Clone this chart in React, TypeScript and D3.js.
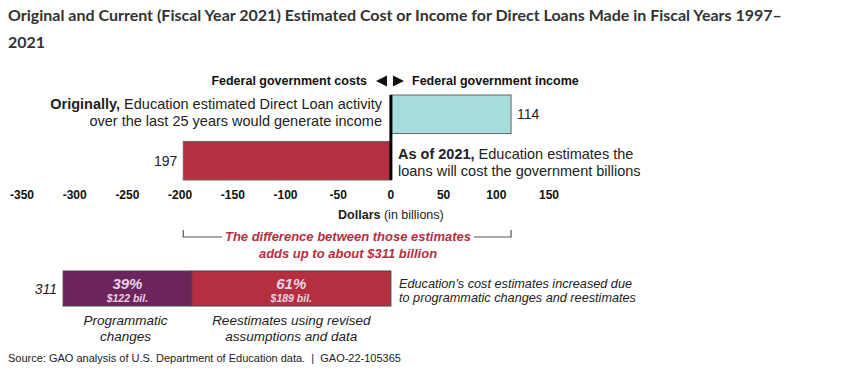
import React from "react";
import * as d3 from "d3";

const estimateLabels = ["Original", "As of 2021"];
const estimateValues = [114, -197];
const tickValues = [-350, -300, -250, -200, -150, -100, -50, 0, 50, 100, 150];
const componentLabels = ["Programmatic changes", "Reestimates"];
const componentValues = [122, 189];
const componentPercents = ["39%", "61%"];
const totalDifference = 311;

const W = 843;
const H = 372;

export default function App() {
  const x = d3.scaleLinear().domain([-350, 150]).range([22, 549]);
  const x0 = x(0);
  const font = "'Liberation Sans', Arial, sans-serif";
  const red = "#b52f41";
  const blue = "#a9dcdd";
  const purple = "#6c245c";

  let acc = -totalDifference;
  const segs = componentValues.map((v, i) => {
    const s = { start: acc, end: acc + v, v, i };
    acc += v;
    return s;
  });
  const segColors = [purple, red];

  const band = d3.scaleBand().domain(estimateLabels).range([95, 180]).paddingInner(0.17);

  return (
    <svg width={W} height={H} style={{ position: "absolute", left: 0, top: 0, background: "#fff" }}>
      <text x={8} y={21} fontFamily="Lato, sans-serif" fontWeight={700} fontSize={16} fill="#333">
        Original and Current (Fiscal Year 2021) Estimated Cost or Income for Direct Loans Made in Fiscal Years 1997–
      </text>
      <text x={8} y={48} fontFamily="Lato, sans-serif" fontWeight={700} fontSize={16} fill="#333">
        2021
      </text>

      <g fontFamily={font}>
        <text x={367} y={85} textAnchor="end" fontWeight={700} fontSize={12.5} fill="#111">
          Federal government costs
        </text>
        <path d={`M${376},${81} L${387},${75.5} L${387},${86.5} Z`} fill="#111" />
        <path d={`M${393},${75.5} L${404},${81} L${393},${86.5} Z`} fill="#111" />
        <text x={412} y={85} fontWeight={700} fontSize={12.5} fill="#111">
          Federal government income
        </text>

        {estimateValues.map((v, i) => {
          const y = band(estimateLabels[i])!;
          const bw = band.bandwidth();
          const xs = Math.min(x(v), x0);
          const w = Math.abs(x(v) - x0);
          return (
            <g key={i}>
              <rect x={xs} y={y} width={w} height={bw} fill={v > 0 ? blue : red} stroke="#666" strokeWidth={1} />
              <text
                x={v > 0 ? x(v) + 6 : x(v) - 6}
                y={y + bw / 2 + 5}
                textAnchor={v > 0 ? "start" : "end"}
                fontSize={14}
                fill="#222"
              >
                {Math.abs(v)}
              </text>
            </g>
          );
        })}
        <line x1={x0} x2={x0} y1={95} y2={180} stroke="#000" strokeWidth={3} />

        <text x={382} y={109} textAnchor="end" fontSize={14.5} fill="#222">
          <tspan fontWeight={700}>Originally,</tspan> Education estimated Direct Loan activity
        </text>
        <text x={382} y={126} textAnchor="end" fontSize={14.5} fill="#222">
          over the last 25 years would generate income
        </text>
        <text x={398} y={159} fontSize={14.5} fill="#222">
          <tspan fontWeight={700}>As of 2021,</tspan> Education estimates the
        </text>
        <text x={398} y={176} fontSize={14.5} fill="#222">
          loans will cost the government billions
        </text>

        {tickValues.map((t) => (
          <text key={t} x={x(t)} y={199} textAnchor="middle" fontWeight={700} fontSize={12} fill="#111">
            {t}
          </text>
        ))}
        <text x={x0} y={219} textAnchor="middle" fontSize={12.5} fill="#222">
          <tspan fontWeight={700}>Dollars</tspan> (in billions)
        </text>

        <path
          d={`M${x(estimateValues[1])},${230} L${x(estimateValues[1])},${237} L${222},${237}`}
          fill="none"
          stroke="#555"
          strokeWidth={1.2}
        />
        <path
          d={`M${474},${237} L${x(estimateValues[0])},${237} L${x(estimateValues[0])},${230}`}
          fill="none"
          stroke="#555"
          strokeWidth={1.2}
        />
        <text x={348} y={241} textAnchor="middle" fontWeight={700} fontStyle="italic" fontSize={13} fill={red}>
          The difference between those estimates
        </text>
        <text x={348} y={258} textAnchor="middle" fontWeight={700} fontStyle="italic" fontSize={13} fill={red}>
          adds up to about ${totalDifference} billion
        </text>

        {segs.map((s) => {
          const cx = (x(s.start) + x(s.end)) / 2;
          return (
            <g key={s.i}>
              <rect x={x(s.start)} y={271} width={x(s.end) - x(s.start)} height={35} fill={segColors[s.i]} stroke="#444" strokeWidth={1} />
              <text x={cx} y={289} textAnchor="middle" fontWeight={700} fontStyle="italic" fontSize={15} fill="#e8d4e4">
                {componentPercents[s.i]}
              </text>
              <text x={cx} y={302} textAnchor="middle" fontWeight={700} fontStyle="italic" fontSize={10.5} fill="#e8d4e4">
                ${s.v} bil.
              </text>
            </g>
          );
        })}
        <text x={x(-totalDifference) - 6} y={294} textAnchor="end" fontStyle="italic" fontSize={14} fill="#222">
          {totalDifference}
        </text>
        <text x={(x(segs[0].start) + x(segs[0].end)) / 2 - 2} y={325} textAnchor="middle" fontStyle="italic" fontSize={13.5} fill="#222">
          Programmatic
        </text>
        <text x={(x(segs[0].start) + x(segs[0].end)) / 2 - 2} y={341} textAnchor="middle" fontStyle="italic" fontSize={13.5} fill="#222">
          changes
        </text>
        <text x={(x(segs[1].start) + x(segs[1].end)) / 2} y={325} textAnchor="middle" fontStyle="italic" fontSize={13.5} fill="#222">
          Reestimates using revised
        </text>
        <text x={(x(segs[1].start) + x(segs[1].end)) / 2} y={341} textAnchor="middle" fontStyle="italic" fontSize={13.5} fill="#222">
          assumptions and data
        </text>
        <text x={399} y={288} fontStyle="italic" fontSize={12.7} fill="#222">
          Education's cost estimates increased due
        </text>
        <text x={399} y={302} fontStyle="italic" fontSize={12.7} fill="#222">
          to programmatic changes and reestimates
        </text>

        <text x={8} y={362} fontSize={11} fill="#222" style={{ whiteSpace: "pre" }}>
          {"Source: GAO analysis of U.S. Department of Education data.  |  GAO-22-105365"}
        </text>
      </g>
    </svg>
  );
}
